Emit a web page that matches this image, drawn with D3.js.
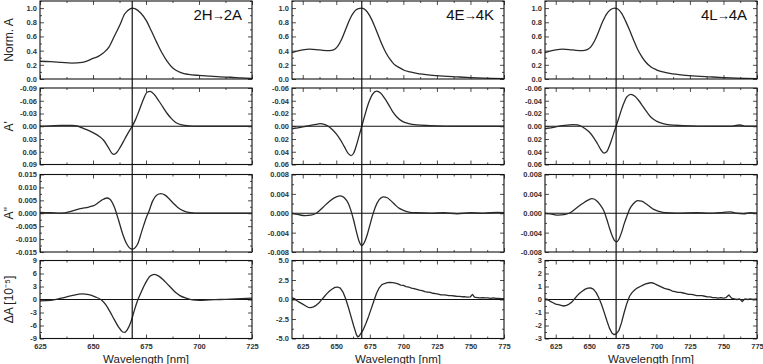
<!DOCTYPE html>
<html lang="en">
<head>
<meta charset="UTF-8">
<title>Derivative spectra</title>
<script src="https://d3js.org/d3.v7.min.js"></script>
<style>
  body { margin: 0; background: #fff; }
  svg { display: block; font-family: "Liberation Sans", Arial, sans-serif; }
  .tick text { font-size: 7.5px; font-weight: bold; fill: #333; }
  .domain { display: none; }
  .tick line { stroke: #222; stroke-width: 0.8; }
</style>
</head>
<body>
<svg width="763" height="364"></svg>
<script>
// ---- data: [wavelength nm, value] ----
const norm2H = [[625,0.25],[630,0.245],[635,0.235],[640,0.225],[645,0.235],[650,0.29],[652.5,0.32],[655,0.37],[657.5,0.45],[660,0.60],[662.5,0.75],[665,0.92],[667.5,0.99],[668.5,1.0],[670,0.99],[672.5,0.93],[675,0.83],[677.5,0.68],[680,0.52],[682.5,0.37],[685,0.25],[687.5,0.16],[690,0.11],[692.5,0.08],[695,0.065],[700,0.05],[705,0.04],[710,0.03],[715,0.025],[720,0.015],[725,0.01]];
const d1_2H = [[625,0.000],[630,-0.001],[635,-0.002],[640,-0.002],[643,0.000],[646,0.006],[650,0.015],[653,0.024],[655,0.033],[657,0.048],[659,0.064],[660,0.066],[661,0.063],[663,0.048],[665,0.030],[667,0.012],[668.5,0.000],[670,-0.015],[672,-0.040],[674,-0.066],[675.5,-0.080],[677,-0.082],[679,-0.074],[681,-0.060],[683,-0.045],[685,-0.030],[687,-0.018],[689,-0.009],[692,-0.003],[695,-0.001],[700,0.000],[710,0.000],[725,0.000]];
const d2_2H = [[625,0.0003],[630,0.0002],[635,0.0000],[640,0.0008],[644,0.0018],[648,0.0024],[651,0.0032],[654,0.0050],[656.5,0.0059],[658,0.0054],[660,0.0025],[662,-0.0025],[664,-0.0080],[666,-0.0120],[668.5,-0.0139],[671,-0.0120],[673,-0.0070],[675,-0.0020],[676.5,0.0010],[678,0.0045],[680,0.0070],[682,0.0076],[684,0.0070],[686,0.0055],[688,0.0038],[690,0.0022],[693,0.0008],[696,0.0002],[700,0.0000],[725,0.0000]];
const dA_2H = [[625,-0.3],[630,-0.2],[635,0.3],[640,0.9],[645,1.3],[648,1.1],[651,0.6],[654,-0.1],[656,-1.2],[658,-2.8],[660,-4.6],[662,-6.3],[664,-7.5],[665,-7.6],[666,-7.1],[668,-5.0],[669.5,-2.5],[671,-0.3],[673,2.0],[675,4.0],[677,5.4],[679,5.8],[681,5.4],[683,4.6],[685,3.6],[687,2.6],[689,1.6],[691,0.9],[694,0.3],[697,-0.1],[700,-0.2],[705,-0.1],[710,0.0],[715,0.1],[720,0.2],[725,0.3]];

const norm4E = [[617,0.37],[620,0.39],[625,0.41],[630,0.42],[635,0.415],[640,0.405],[645,0.40],[648,0.41],[651,0.46],[654,0.56],[657,0.70],[660,0.84],[663,0.94],[666,0.99],[669,1.0],[672,0.97],[675,0.89],[678,0.77],[681,0.63],[684,0.49],[687,0.37],[690,0.28],[693,0.21],[697,0.16],[701,0.12],[705,0.10],[710,0.08],[720,0.055],[730,0.04],[740,0.03],[750,0.02],[760,0.012],[775,0.005]];
const d1_4E = [[617,0.004],[620,0.003],[625,0.001],[630,-0.001],[635,-0.003],[638,-0.004],[641,-0.003],[644,0.000],[647,0.005],[650,0.012],[653,0.021],[656,0.032],[659,0.043],[661,0.046],[663,0.042],[665,0.030],[667,0.015],[669,0.000],[671,-0.015],[674,-0.036],[677,-0.050],[680,-0.055],[683,-0.052],[686,-0.044],[689,-0.034],[692,-0.023],[695,-0.015],[699,-0.008],[704,-0.004],[710,-0.002],[720,-0.001],[740,0.000],[760,0.000],[775,0.000]];
const d2_4E = [[617,0.0000],[622,-0.0003],[627,-0.0005],[631,-0.0004],[635,0.0000],[640,0.0012],[645,0.0025],[650,0.0034],[653,0.0036],[656,0.0032],[659,0.0020],[661,0.0005],[663,-0.0015],[665,-0.0038],[667,-0.0058],[669,-0.0067],[671,-0.0060],[673,-0.0045],[675,-0.0025],[677,-0.0005],[679,0.0012],[682,0.0028],[685,0.0034],[688,0.0032],[691,0.0025],[694,0.0017],[697,0.0010],[700,0.0006],[705,0.0002],[710,0.0001],[720,0.0000],[730,0.0001],[740,-0.0001],[750,0.0001],[760,0.0000],[770,0.0002],[775,0.0001]];
const dA_4E = [[617,0.2],[619,0.1],[621,-0.2],[623,-0.4],[625,-0.6],[627,-0.8],[629,-1.0],[631,-1.05],[633,-0.95],[635,-0.75],[637,-0.45],[639,-0.05],[641,0.35],[643,0.75],[645,1.1],[647,1.35],[649,1.55],[651,1.6],[653,1.45],[655,0.95],[657,0.1],[659,-1.0],[661,-2.2],[663,-3.4],[665,-4.5],[666,-4.8],[667,-4.7],[668.5,-4.3],[670,-3.9],[672,-3.1],[674,-2.2],[676,-1.2],[678,-0.2],[680,0.8],[682,1.5],[684,1.9],[686,2.05],[688,2.15],[690,2.2],[692,2.15],[694,2.1],[696,2.0],[698,1.85],[700,1.8],[702,1.65],[704,1.6],[706,1.45],[708,1.4],[710,1.3],[712,1.2],[714,1.15],[716,1.0],[718,0.95],[720,0.9],[722,0.8],[724,0.75],[726,0.7],[728,0.6],[730,0.6],[732,0.55],[734,0.5],[736,0.5],[738,0.45],[740,0.4],[742,0.4],[744,0.35],[746,0.35],[748,0.3],[750,0.35],[751.5,0.65],[753,0.3],[755,0.25],[757,0.2],[759,0.25],[761,0.2],[763,0.2],[765,0.15],[767,0.2],[769,0.15],[771,0.15],[773,0.1],[775,0.1]];

const norm4L = [[617,0.37],[620,0.39],[625,0.41],[630,0.42],[635,0.415],[640,0.405],[645,0.40],[648,0.41],[651,0.45],[654,0.54],[657,0.67],[660,0.81],[663,0.92],[666,0.98],[669,1.0],[671,0.99],[674,0.93],[677,0.82],[680,0.69],[683,0.55],[686,0.42],[689,0.32],[692,0.24],[696,0.17],[700,0.13],[705,0.10],[710,0.08],[720,0.055],[730,0.04],[740,0.03],[750,0.02],[760,0.012],[775,0.005]];
const d1_4L = [[617,0.004],[620,0.003],[625,0.001],[630,-0.001],[635,-0.002],[638,-0.0025],[641,-0.002],[644,0.000],[647,0.004],[650,0.009],[653,0.017],[656,0.027],[659,0.038],[661,0.042],[663,0.040],[665,0.031],[667,0.019],[669,0.006],[670,0.000],[672,-0.013],[675,-0.032],[678,-0.046],[681,-0.050],[684,-0.047],[687,-0.040],[690,-0.031],[693,-0.022],[696,-0.014],[700,-0.008],[705,-0.004],[710,-0.002],[720,-0.001],[740,0.000],[755,0.000],[762,-0.002],[767,0.000],[775,0.000]];
const d2_4L = [[617,0.0000],[622,-0.0002],[627,-0.0004],[631,-0.0003],[635,0.0000],[640,0.0010],[645,0.0020],[649,0.0027],[652,0.0030],[655,0.0027],[658,0.0018],[661,0.0004],[663,-0.0012],[665,-0.0030],[667,-0.0046],[669,-0.0057],[670.5,-0.0059],[672,-0.0054],[674,-0.0040],[676,-0.0022],[678,-0.0006],[680,0.0008],[683,0.0020],[686,0.0026],[689,0.0025],[692,0.0020],[695,0.0014],[698,0.0008],[702,0.0004],[707,0.0001],[715,0.0000],[730,0.0001],[740,0.0000],[750,0.0002],[755,0.0003],[760,0.0000],[765,-0.0001],[770,0.0001],[775,0.0000]];
const dA_4L = [[617,0.05],[619,0.0],[621,-0.15],[623,-0.25],[625,-0.35],[627,-0.4],[629,-0.45],[631,-0.5],[633,-0.45],[635,-0.35],[637,-0.2],[639,0.05],[641,0.3],[643,0.5],[645,0.65],[647,0.8],[649,0.88],[651,0.9],[653,0.8],[655,0.55],[657,0.15],[659,-0.35],[661,-0.95],[663,-1.6],[665,-2.2],[667,-2.6],[668.5,-2.7],[670,-2.65],[672,-2.4],[674,-1.8],[676,-1.0],[678,-0.3],[680,0.25],[682,0.55],[684,0.75],[686,0.9],[688,1.0],[690,1.1],[692,1.2],[694,1.25],[696,1.3],[698,1.25],[700,1.15],[702,1.05],[704,0.95],[706,0.85],[708,0.8],[710,0.75],[712,0.65],[714,0.6],[716,0.55],[718,0.55],[720,0.5],[722,0.45],[724,0.4],[726,0.4],[728,0.35],[730,0.3],[732,0.3],[734,0.3],[736,0.25],[738,0.2],[740,0.2],[742,0.15],[744,0.15],[746,0.1],[748,0.15],[750,0.1],[752,0.15],[754,0.35],[756,0.1],[758,0.05],[760,0.0],[762,0.05],[764,-0.15],[766,0.05],[768,0.0],[770,0.05],[772,0.0],[775,0.05]];

// title parts: [from, to]
const titles = [["2H", "2A"], ["4E", "4K"], ["4L", "4A"]];
const rowLabels = ["Norm. A", "A'", "A\"", "\u0394A [10\u207B\u2075]"];
const peakWl = [668.5, 669, 670];
const xDomains = [[625, 725], [617, 775], [617, 775]];
const xTicks = [[625, 650, 675, 700, 725], [625, 650, 675, 700, 725, 750, 775], [625, 650, 675, 700, 725, 750, 775]];

// series[col][row]
const series = [[norm2H, d1_2H, d2_2H, dA_2H], [norm4E, d1_4E, d2_4E, dA_4E], [norm4L, d1_4L, d2_4L, dA_4L]];
// y domains [bottom, top] (derivative row is drawn inverted)
const yDomains = [
  [[0, 1.1], [0.09, -0.09], [-0.015, 0.015], [-9, 9]],
  [[0, 1.1], [0.06, -0.06], [-0.008, 0.008], [-5, 5]],
  [[0, 1.1], [0.06, -0.06], [-0.008, 0.008], [-3, 3]]
];
const yTicks = [
  [[0, 0.2, 0.4, 0.6, 0.8, 1.0], [-0.09, -0.06, -0.03, 0, 0.03, 0.06, 0.09], [-0.015, -0.01, -0.005, 0, 0.005, 0.01, 0.015], [-9, -6, -3, 0, 3, 6, 9]],
  [[0, 0.2, 0.4, 0.6, 0.8, 1.0], [-0.06, -0.04, -0.02, 0, 0.02, 0.04, 0.06], [-0.008, -0.004, 0, 0.004, 0.008], [-5, -2.5, 0, 2.5, 5]],
  [[0, 0.2, 0.4, 0.6, 0.8, 1.0], [-0.06, -0.04, -0.02, 0, 0.02, 0.04, 0.06], [-0.008, -0.004, 0, 0.004, 0.008], [-3, -2, -1, 0, 1, 2, 3]]
];
const yFormats = [
  [".1f", ".2f", ".3f", "d"],
  [".1f", ".2f", ".3f", ".1f"],
  [".1f", ".2f", ".3f", "d"]
];

// ---- layout ----
const colX = [[40, 252], [292, 504], [545, 757]];
const rowY = [[1, 79], [88, 164.5], [174.5, 252], [260.5, 338.5]];

const svg = d3.select("svg");
const loc = d3.formatLocale({decimal: ".", thousands: ",", grouping: [3], currency: ["", ""], minus: "-"});

colX.forEach((cx, c) => {
  const x = d3.scaleLinear().domain(xDomains[c]).range(cx);
  const major = xTicks[c];
  const minor = major.slice(0, -1).map(t => t + 12.5).concat(major[0] - 12.5 >= xDomains[c][0] ? [major[0] - 12.5] : []);

  rowY.forEach((ry, r) => {
    const y = d3.scaleLinear().domain(yDomains[c][r]).range([ry[1], ry[0]]);
    const g = svg.append("g");
    const clipId = `clip-${c}-${r}`;
    g.append("clipPath").attr("id", clipId)
      .append("rect").attr("x", cx[0]).attr("y", ry[0]).attr("width", cx[1] - cx[0]).attr("height", ry[1] - ry[0]);

    const yt = yTicks[c][r];
    const step = yt[1] - yt[0];
    const yMinor = yt.slice(0, -1).map(t => t + step / 2)
      .concat(yt[yt.length - 1] + step / 2 <= Math.max(...yDomains[c][r]) ? [yt[yt.length - 1] + step / 2] : []);

    // ticks, inside on all four sides
    g.append("g").attr("transform", `translate(0,${ry[1]})`)
      .call(d3.axisBottom(x).tickValues(major).tickSize(-4).tickPadding(5)
        .tickFormat(r === 3 ? d3.format("d") : ""));
    g.append("g").attr("transform", `translate(0,${ry[1]})`)
      .call(d3.axisBottom(x).tickValues(minor).tickSize(-2).tickFormat(""));
    g.append("g").attr("transform", `translate(0,${ry[0]})`)
      .call(d3.axisTop(x).tickValues(major).tickSize(-4).tickFormat(""));
    g.append("g").attr("transform", `translate(0,${ry[0]})`)
      .call(d3.axisTop(x).tickValues(minor).tickSize(-2).tickFormat(""));
    g.append("g").attr("transform", `translate(${cx[0]},0)`)
      .call(d3.axisLeft(y).tickValues(yt).tickSize(-4).tickPadding(3)
        .tickFormat(loc.format(yFormats[c][r])));
    g.append("g").attr("transform", `translate(${cx[0]},0)`)
      .call(d3.axisLeft(y).tickValues(yMinor).tickSize(-2).tickFormat(""));
    g.append("g").attr("transform", `translate(${cx[1]},0)`)
      .call(d3.axisRight(y).tickValues(yt).tickSize(-4).tickFormat(""));
    g.append("g").attr("transform", `translate(${cx[1]},0)`)
      .call(d3.axisRight(y).tickValues(yMinor).tickSize(-2).tickFormat(""));

    const plot = g.append("g").attr("clip-path", `url(#${clipId})`);
    if (r > 0) {
      plot.append("line")
        .attr("x1", cx[0]).attr("x2", cx[1])
        .attr("y1", y(0)).attr("y2", y(0))
        .attr("stroke", "#111").attr("stroke-width", 1.1);
    }
    const noisy = r === 3 && c > 0;
    plot.append("path")
      .datum(series[c][r])
      .attr("fill", "none")
      .attr("stroke", "#2a2a2a")
      .attr("stroke-width", 1.3)
      .attr("stroke-linejoin", "round")
      .attr("d", d3.line()
        .x(d => x(d[0]))
        .y(d => y(d[1]))
        .curve(noisy ? d3.curveLinear : d3.curveMonotoneX));

    g.append("rect")
      .attr("x", cx[0]).attr("y", ry[0])
      .attr("width", cx[1] - cx[0]).attr("height", ry[1] - ry[0])
      .attr("fill", "none").attr("stroke", "#111").attr("stroke-width", 1.1);

    if (c === 0) {
      const ym = (ry[0] + ry[1]) / 2;
      svg.append("text")
        .attr("transform", `translate(13,${ym}) rotate(-90)`)
        .attr("text-anchor", "middle")
        .attr("font-size", 12)
        .attr("fill", "#222")
        .text(rowLabels[r]);
    }
  });

  // peak wavelength marker through all rows
  svg.append("line")
    .attr("x1", x(peakWl[c])).attr("x2", x(peakWl[c]))
    .attr("y1", rowY[0][0]).attr("y2", rowY[3][1])
    .attr("stroke", "#111").attr("stroke-width", 1.2);

  const t = svg.append("text")
    .attr("x", cx[1] - 10).attr("y", 20)
    .attr("text-anchor", "end")
    .attr("font-size", 15)
    .attr("fill", "#111");
  t.append("tspan").text(titles[c][0]);
  t.append("tspan").attr("font-size", 13).attr("dx", -1).text("\u2192");
  t.append("tspan").attr("dx", -1).text(titles[c][1]);

  svg.append("text")
    .attr("x", (cx[0] + cx[1]) / 2).attr("y", 362.5)
    .attr("text-anchor", "middle")
    .attr("font-size", 11.5)
    .attr("fill", "#222")
    .text("Wavelength [nm]");
});
</script>
</body>
</html>
